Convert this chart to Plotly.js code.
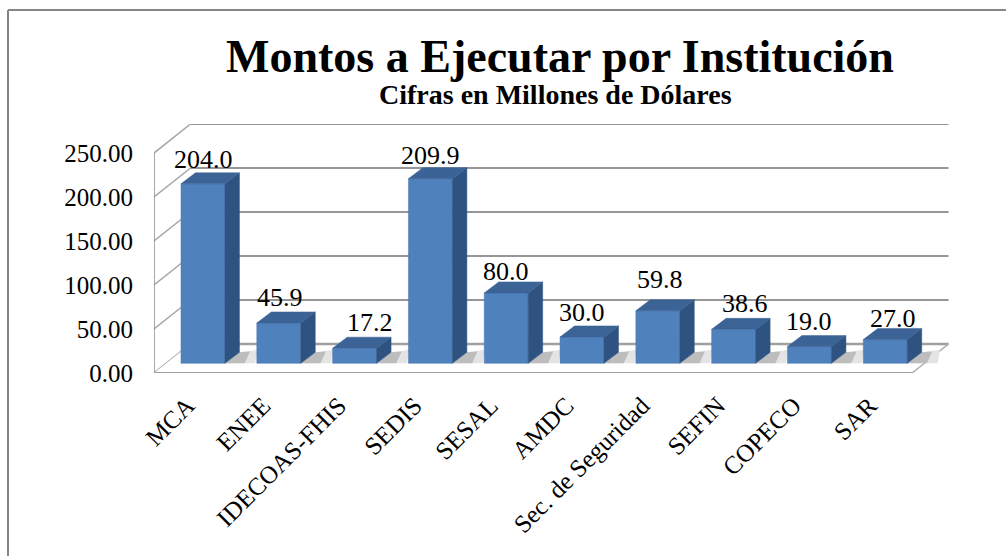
<!DOCTYPE html>
<html>
<head>
<meta charset="utf-8">
<script src="https://cdn.plot.ly/plotly-3.0.1.min.js"></script>
<style>html,body{margin:0;padding:0;background:#fff;overflow:hidden}</style>
</head>
<body>
<div id="chart" style="width:1006px;height:556px"></div>
<script>
const categories = ["MCA","ENEE","IDECOAS-FHIS","SEDIS","SESAL","AMDC","Sec. de Seguridad","SEFIN","COPECO","SAR"];
const values = [204.0,45.9,17.2,209.9,80.0,30.0,59.8,38.6,19.0,27.0];
const valueLabels = ["204.0","45.9","17.2","209.9","80.0","30.0","59.8","38.6","19.0","27.0"];
const yTicks = [0,50,100,150,200,250];
const yTickLabels = ["0.00","50.00","100.00","150.00","200.00","250.00"];
const labelShiftX = [1,1,15,0,0,0,2,11,0,8];
const labelShiftY = [13,14.7,14.7,12.5,10,13,20,15,14,10];

const W = 1006, H = 556;
const M = {l:154, r:56, t:124, b:183};
const FONT = '"Liberation Serif", serif';
const WALL_DX = 0.4815, WALL_DY = 33, BAR_DX = 0.191, BAR_DY = 12.5;
const BAR_OFF = 0.146, BAR_W = 0.58, BAR_BASE = 11;
const xL = -0.5, xR = 9.5;

const px = v => (v - M.l) / (W - M.l - M.r);
const py = v => 1 - (v - M.t) / (H - M.t - M.b);

function seg(x0,y0,x1,y1,color,width){
  return {type:'line',xref:'x',yref:'y',x0,y0,x1,y1,layer:'below',line:{color,width}};
}
function poly(pts,fill){
  const d = pts.map((p,i)=>(i?'L':'M')+p[0]+','+p[1]).join(' ')+' Z';
  return {type:'path',xref:'x',yref:'y',path:d,fillcolor:fill,line:{width:0},layer:'below'};
}

const shapes = [];
// frame
shapes.push({type:'line',xref:'paper',yref:'paper',x0:px(8),y0:py(10),x1:px(1006),y1:py(10),line:{color:'#868686',width:2}});
shapes.push({type:'line',xref:'paper',yref:'paper',x0:px(8),y0:py(10),x1:px(8),y1:py(556),line:{color:'#868686',width:2}});
// walls
yTicks.forEach(t=>{
  shapes.push(seg(xL,t,xL+WALL_DX,t+WALL_DY,'#a6a6a6',1.5));
  if(t>0) shapes.push(seg(xL+WALL_DX,t+WALL_DY,xR+WALL_DX,t+WALL_DY,'#969696',2));
});
shapes.push(seg(xL,0,xL,250,'#8c8c8c',1.5));
// floor
shapes.push(poly([[xL,0],[xR,0],[xR+WALL_DX,WALL_DY],[xL+WALL_DX,WALL_DY]],'#ffffff'));
shapes.push(seg(xL+WALL_DX,WALL_DY,xR+WALL_DX,WALL_DY,'#a0a0a0',2.5));
shapes.push(seg(xR,0,xR+WALL_DX,WALL_DY,'#b0b0b0',1.5));
shapes.push(seg(xL,-1,xR,-1,'#d0d0d0',3));
shapes.push(seg(xL,0,xR,0,'#a0a0a0',2));
// shadows
values.forEach((v,i)=>{
  const r = i+BAR_OFF+BAR_W/2;
  shapes.push(poly([[r,BAR_BASE],[r+0.40,BAR_BASE],[r+BAR_DX+0.24,BAR_BASE+BAR_DY+3],[r+BAR_DX,BAR_BASE+BAR_DY]],'#e4e4e4'));
  shapes.push(poly([[r,BAR_BASE],[r+0.26,BAR_BASE],[r+BAR_DX+0.14,BAR_BASE+BAR_DY+1],[r+BAR_DX,BAR_BASE+BAR_DY]],'#bdbdbd'));
});

// 3D faces
const sideX=[],sideY=[],topX=[],topY=[];
values.forEach((v,i)=>{
  const l=i+BAR_OFF-BAR_W/2, r=i+BAR_OFF+BAR_W/2, b=BAR_BASE, t=BAR_BASE+v;
  sideX.push(r,r+BAR_DX,r+BAR_DX,r,r,null);
  sideY.push(b,b+BAR_DY,t+BAR_DY,t,b,null);
  topX.push(l,r,r+BAR_DX,l+BAR_DX,l,null);
  topY.push(t,t,t+BAR_DY,t+BAR_DY,t,null);
});

const traces = [
  {type:'bar',x:categories.map((c,i)=>i+BAR_OFF),y:values,base:BAR_BASE,width:BAR_W,
   text:categories,hoverinfo:'text+y',textposition:'none',
   marker:{color:'#4f81bd',line:{color:'#4a79b2',width:0.5}}},
  {type:'scatter',mode:'lines',x:sideX,y:sideY,fill:'toself',fillcolor:'#2f5381',line:{color:'#2f5381',width:0.5},hoverinfo:'skip'},
  {type:'scatter',mode:'lines',x:topX,y:topY,fill:'toself',fillcolor:'#3b6396',line:{color:'#3b6396',width:0.5},hoverinfo:'skip'}
];

const annotations = values.map((v,i)=>({
  xref:'x',yref:'y',x:i+BAR_OFF,y:BAR_BASE+v+BAR_DY,text:valueLabels[i],showarrow:false,
  xanchor:'center',yanchor:'middle',xshift:labelShiftX[i],yshift:labelShiftY[i],
  font:{family:FONT,size:26,color:'#000'}
}));
annotations.push({xref:'paper',yref:'paper',x:px(555),y:py(94),text:'<b>Cifras en Millones de Dólares</b>',showarrow:false,
  xanchor:'center',yanchor:'middle',font:{family:FONT,size:28,color:'#000'}});

const layout = {
  width:W,height:H,autosize:false,showlegend:false,
  paper_bgcolor:'#fff',plot_bgcolor:'rgba(0,0,0,0)',
  margin:{l:M.l,r:M.r,t:M.t,b:M.b,pad:0},
  title:{text:'<b>Montos a Ejecutar por Institución</b>',xref:'container',yref:'container',
    x:560/W,y:1-56/H,xanchor:'center',yanchor:'middle',font:{family:FONT,size:46,color:'#000'}},
  xaxis:{range:[xL,xR+0.5],tickmode:'array',tickvals:categories.map((c,i)=>i-0.06),ticktext:categories,
    tickangle:-45,showgrid:false,zeroline:false,showline:false,ticks:'',ticklabelstandoff:12,
    tickfont:{family:FONT,size:25,color:'#000'},fixedrange:true},
  yaxis:{range:[0,283],tickmode:'array',tickvals:yTicks,ticktext:yTickLabels,
    showgrid:false,zeroline:false,showline:false,ticks:'',ticklabelstandoff:20,
    tickfont:{family:FONT,size:25,color:'#000'},fixedrange:true},
  shapes,annotations
};
Plotly.newPlot('chart',traces,layout,{displayModeBar:false,staticPlot:true});
</script>
</body>
</html>
